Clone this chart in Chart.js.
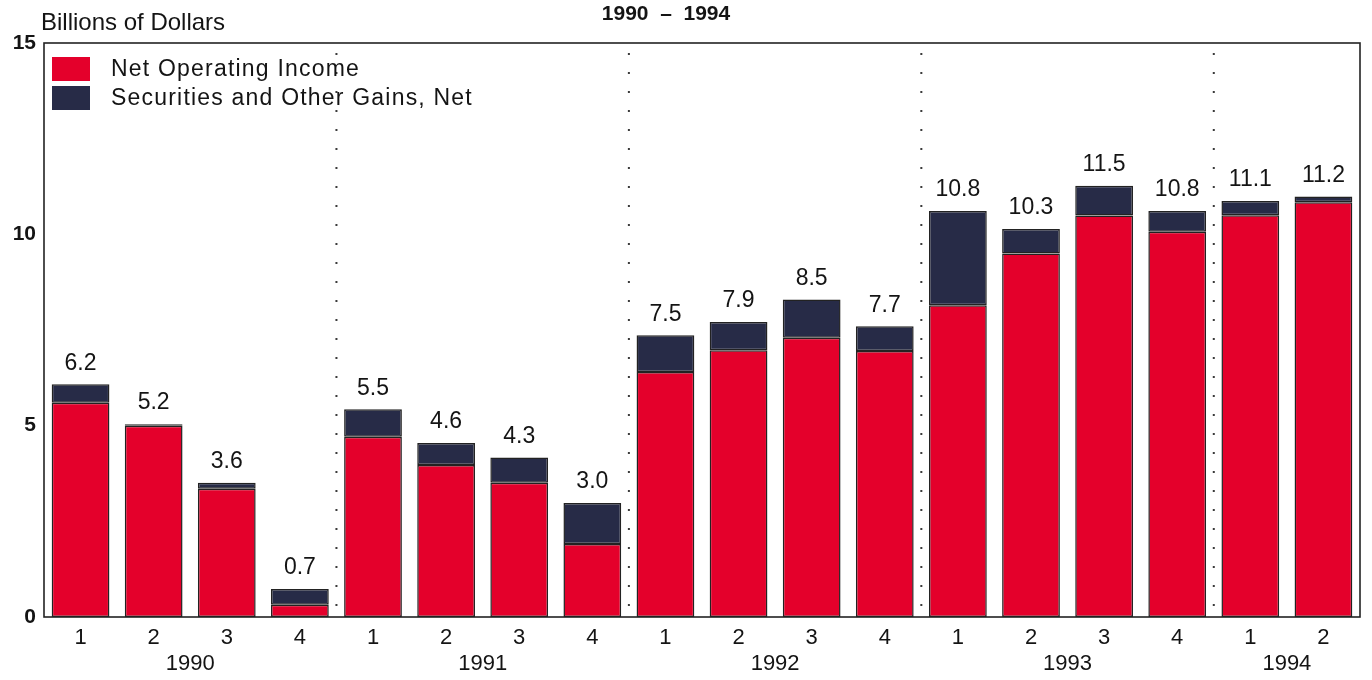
<!DOCTYPE html>
<html>
<head>
<meta charset="utf-8">
<script src="https://cdn.jsdelivr.net/npm/chart.js@4/dist/chart.umd.min.js"></script>
<style>
  html, body { margin: 0; padding: 0; background: #ffffff; }
  #wrap { width: 1372px; height: 680px; }
</style>
</head>
<body>
<div id="wrap"><canvas id="chart" width="1372" height="680"></canvas></div>
<script>
// quarters, grouped by year
var quarters = ["1", "2", "3", "4", "1", "2", "3", "4", "1", "2", "3", "4", "1", "2", "3", "4", "1", "2"];
var years = ["1990", "1991", "1992", "1993", "1994"];
var quartersPerYear = [4, 4, 4, 4, 2];

// billions of dollars
var netOperatingIncome = [5.6, 5.0, 3.35, 0.32, 4.71, 3.97, 3.51, 1.91, 6.4, 6.97, 7.3, 6.95, 8.15, 9.5, 10.49, 10.07, 10.5, 10.84];
var securitiesGains = [0.48, 0.04, 0.16, 0.41, 0.72, 0.58, 0.66, 1.07, 0.96, 0.74, 1.0, 0.65, 2.46, 0.64, 0.78, 0.54, 0.37, 0.15];
var totalLabels = ["6.2", "5.2", "3.6", "0.7", "5.5", "4.6", "4.3", "3.0", "7.5", "7.9", "8.5", "7.7", "10.8", "10.3", "11.5", "10.8", "11.1", "11.2"];
var yTicks = [0, 5, 10, 15];

var RED = "#e4002b";
var NAVY = "#272b47";
var INK = "#141414";
var FONT = "'Liberation Sans', Arial, sans-serif";

var extras = {
    id: "extras",
    beforeDatasetsDraw: function (chart) {
        var c = chart.ctx, a = chart.chartArea, x = chart.scales.x;
        c.save();
        // dotted separators between years
        c.strokeStyle = "#3a3a3a";
        c.lineWidth = 2;
        c.setLineDash([2, 17]);
        var idx = 0;
        for (var i = 0; i < quartersPerYear.length - 1; i++) {
            idx += quartersPerYear[i];
            var px = (x.getPixelForValue(idx - 1) + x.getPixelForValue(idx)) / 2;
            c.beginPath();
            c.moveTo(px, a.top + 10);
            c.lineTo(px, a.bottom);
            c.stroke();
        }
        c.restore();
    },
    afterDatasetsDraw: function (chart) {
        var c = chart.ctx, a = chart.chartArea, x = chart.scales.x;
        c.save();
        // frame
        c.strokeStyle = "#222";
        c.lineWidth = 1.6;
        c.strokeRect(a.left, a.top, a.right - a.left, a.bottom - a.top);

        // totals above bars
        var meta = chart.getDatasetMeta(1);
        c.fillStyle = INK;
        c.font = "23px " + FONT;
        c.textAlign = "center";
        c.textBaseline = "middle";
        meta.data.forEach(function (bar, i) {
            c.fillText(totalLabels[i], bar.x, bar.y - 21);
        });

        // year labels
        c.font = "22px " + FONT;
        var idx = 0;
        for (var i = 0; i < years.length; i++) {
            var first = x.getPixelForValue(idx);
            var last = x.getPixelForValue(idx + quartersPerYear[i] - 1);
            c.fillText(years[i], (first + last) / 2, 664);
            idx += quartersPerYear[i];
        }

        // titles
        c.textAlign = "left";
        c.font = "24px " + FONT;
        c.fillText("Billions of Dollars", 41, 23);
        c.textAlign = "center";
        c.font = "bold 21px " + FONT;
        c.fillText("1990  \u2013  1994", 666, 14);

        // legend inside plot
        var items = chart.data.datasets;
        c.textAlign = "left";
        c.font = "23px " + FONT;
        if ("letterSpacing" in c) c.letterSpacing = "1.2px";
        for (var j = 0; j < items.length; j++) {
            var y0 = 57 + j * 29;
            c.fillStyle = items[j].backgroundColor;
            c.fillRect(52, y0, 38, 24);
            c.fillStyle = INK;
            c.fillText(items[j].label, 111, y0 + 13);
        }
        c.restore();
    }
};

var ctx = document.getElementById("chart").getContext("2d");
var myChart = new Chart(ctx, {
    type: "bar",
    data: {
        labels: quarters,
        datasets: [
            {
                label: "Net Operating Income",
                data: netOperatingIncome,
                backgroundColor: RED,
                borderColor: "#222",
                borderWidth: 1.5,
                borderSkipped: false
            },
            {
                label: "Securities and Other Gains, Net",
                data: securitiesGains,
                backgroundColor: NAVY,
                borderColor: "#222",
                borderWidth: 1.5,
                borderSkipped: false
            }
        ]
    },
    options: {
        responsive: false,
        animation: false,
        layout: {
            padding: { top: 43, right: 12, left: 0, bottom: 0 }
        },
        datasets: {
            bar: {
                categoryPercentage: 1,
                barPercentage: 0.79
            }
        },
        plugins: {
            legend: { display: false },
            title: { display: false },
            tooltip: { enabled: false }
        },
        scales: {
            x: {
                stacked: true,
                afterFit: function (scale) { scale.height = 63; },
                grid: { display: false, drawTicks: false },
                border: { display: false },
                ticks: {
                    color: INK,
                    padding: 8,
                    maxRotation: 0,
                    autoSkip: false,
                    font: { family: FONT, size: 22 }
                }
            },
            y: {
                stacked: true,
                min: 0,
                max: 15,
                afterFit: function (scale) { scale.width = 44; },
                afterBuildTicks: function (scale) {
                    scale.ticks = yTicks.map(function (v) { return { value: v }; });
                },
                grid: { display: false, drawTicks: false },
                border: { display: false },
                ticks: {
                    color: INK,
                    padding: 8,
                    font: { family: FONT, size: 21, weight: "bold" }
                }
            }
        }
    },
    plugins: [extras]
});
</script>
</body>
</html>
